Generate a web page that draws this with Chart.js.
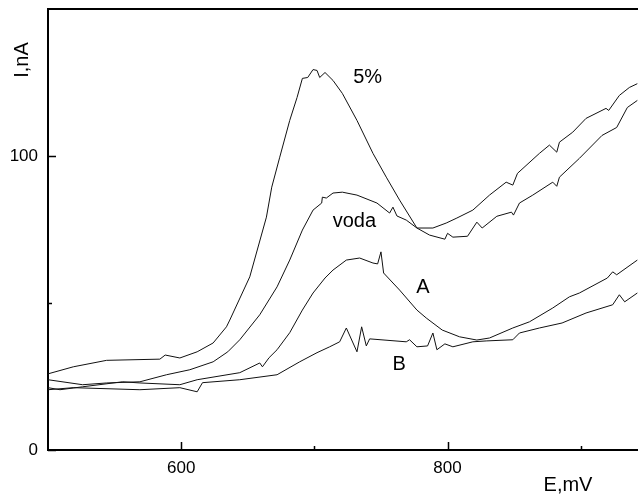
<!DOCTYPE html>
<html>
<head>
<meta charset="utf-8">
<script src="https://cdn.jsdelivr.net/npm/chart.js@4.4.0/dist/chart.umd.min.js"></script>
<style>
  html, body { margin: 0; padding: 0; background: #fff; }
</style>
</head>
<body>
<canvas id="voltChart" width="638" height="494"></canvas>
<script>
// E, mV / I, nA
const fivePctX = [500, 519, 544, 584, 588, 599, 612, 624, 634, 636.5, 651.5, 664, 668, 674, 681.5, 687, 691, 695, 699, 702, 704, 708, 714, 721, 732, 744, 754, 764, 777, 786.5, 798, 800, 804, 815, 822, 826, 837, 848, 849.5, 854, 864, 879, 882, 884, 899, 916, 927, 935, 942.5];
const fivePctY = [25.9, 28.3, 30.5, 30.9, 32.3, 31.3, 33.4, 36.4, 41.9, 44.2, 58.9, 79.2, 89.4, 99.6, 112.1, 119.9, 126.4, 126.7, 129.4, 129.1, 126.7, 128.4, 125.7, 121.3, 112.1, 100.9, 92.8, 85.0, 75.5, 73.1, 71.7, 73.7, 72.4, 72.7, 77.5, 75.5, 79.5, 80.9, 79.9, 84.0, 86.7, 91.1, 89.7, 92.8, 99.2, 107.0, 109.7, 116.5, 118.9];

const vodaX = [500, 526, 544, 569, 589, 606.5, 624, 635, 644, 659, 672, 681.5, 691, 699, 705.5, 706, 709, 714, 721, 732, 747, 756.5, 759, 762, 769, 777, 789, 799, 807, 819, 831.5, 844, 849, 852.5, 869, 876.5, 882, 884, 894, 904, 919, 921, 929, 936.5, 942.5];
const vodaY = [23.9, 22.2, 22.8, 23.2, 25.6, 27.3, 30.0, 33.4, 37.5, 46.0, 55.5, 64.6, 74.8, 81.6, 84.0, 86.0, 85.7, 87.4, 87.7, 86.7, 84.0, 80.6, 82.6, 79.6, 78.2, 75.5, 75.5, 77.2, 78.9, 81.6, 86.7, 91.1, 90.1, 94.1, 100.9, 103.7, 101.3, 104.7, 108.1, 112.8, 116.2, 115.5, 120.6, 123.3, 124.6];

const curveAX = [500, 509, 526, 556, 569, 599, 612, 644, 659, 661, 666, 672, 681.5, 691, 699, 708, 714, 724, 734, 744, 747.5, 750, 752, 764, 777, 784, 796, 809, 822, 831.5, 849, 861.5, 879, 891.5, 899, 920, 924, 927, 942.5];
const curveAY = [21.2, 20.5, 21.5, 23.2, 22.8, 22.2, 23.9, 26.3, 29.6, 28.3, 31.4, 34.1, 39.9, 47.6, 53.4, 58.5, 61.2, 64.6, 65.3, 63.6, 63.3, 67.4, 60.2, 54.4, 47.6, 44.9, 40.8, 38.5, 37.4, 38.1, 41.5, 43.6, 48.3, 52.1, 53.4, 58.5, 60.6, 59.6, 64.6];

const curveBX = [500, 519, 569, 599, 612, 616, 644, 672, 689, 702, 711.5, 719, 724, 732, 735.5, 739, 741.5, 769, 771.5, 777, 785, 789, 792, 798, 804, 819, 829, 849, 854, 869, 886, 904, 924, 929, 933, 942.5];
const curveBY = [20.5, 21.2, 20.5, 21.2, 19.8, 22.9, 23.9, 25.6, 30.0, 33.1, 35.1, 36.8, 41.5, 33.4, 41.9, 35.4, 37.8, 36.8, 37.5, 35.1, 35.4, 39.8, 34.1, 36.1, 35.1, 36.8, 37.1, 37.5, 39.8, 41.5, 43.2, 46.6, 49.4, 52.8, 50.4, 53.4];

const xLabelled = [600, 800];
const xMinor = [700, 900];
const yLabelled = [0, 100];
const yMinor = [50];

// curve names and where they sit (E, I)
const curveNames = ['5%', 'voda', 'A', 'B'];
const nameAtX = [740, 730, 781.6, 763.6];
const nameAtY = [124.7, 75.8, 53.4, 27.3];

const FONT = "'Liberation Sans', Arial, sans-serif";

function toPoints(xs, ys) {
    return xs.map((x, i) => ({ x: x, y: ys[i] }));
}

function curve(label, xs, ys) {
    return {
        label: label,
        data: toPoints(xs, ys),
        borderColor: '#111',
        borderWidth: 1,
        pointRadius: 0,
        tension: 0,
        fill: false
    };
}

// keep the plot box fixed: no extra room for edge labels
function fixBox(s, size) {
    if (s.isHorizontal()) s.height = size; else s.width = size;
    s.paddingTop = 0;
    s.paddingBottom = 0;
    s.paddingLeft = 0;
    s.paddingRight = 0;
}

// inward ticks, top frame, axis titles and curve names
const decorPlugin = {
    id: 'decor',
    afterDraw(chart) {
        const ctx = chart.ctx;
        const xs = chart.scales.x;
        const ys = chart.scales.y;
        const area = chart.chartArea;
        ctx.save();
        ctx.strokeStyle = '#000';
        ctx.lineWidth = 2;
        ctx.beginPath();
        ctx.moveTo(area.left - 1, area.top);
        ctx.lineTo(area.right, area.top);
        ctx.stroke();

        ctx.lineWidth = 1.5;
        ctx.beginPath();
        xLabelled.concat(xMinor).forEach(v => {
            const px = Math.round(xs.getPixelForValue(v)) + 0.5;
            const len = xLabelled.includes(v) ? 8 : 4;
            ctx.moveTo(px, area.bottom);
            ctx.lineTo(px, area.bottom - len);
        });
        yLabelled.concat(yMinor).forEach(v => {
            const py = Math.round(ys.getPixelForValue(v)) + 0.5;
            const len = yLabelled.includes(v) ? 8 : 4;
            ctx.moveTo(area.left, py);
            ctx.lineTo(area.left + len, py);
        });
        ctx.stroke();

        ctx.fillStyle = '#000';
        ctx.font = '20px ' + FONT;
        ctx.textAlign = 'center';
        ctx.textBaseline = 'alphabetic';
        ctx.fillText('E,mV', 568, 491);

        ctx.save();
        ctx.translate(28, 60);
        ctx.rotate(-Math.PI / 2);
        ctx.fillText('I,nA', 0, 0);
        ctx.restore();

        curveNames.forEach((name, i) => {
            ctx.fillText(name, xs.getPixelForValue(nameAtX[i]), ys.getPixelForValue(nameAtY[i]));
        });
        ctx.restore();
    }
};

const ctx = document.getElementById('voltChart').getContext('2d');
const chart = new Chart(ctx, {
    type: 'line',
    data: {
        datasets: [
            curve('5%', fivePctX, fivePctY),
            curve('voda', vodaX, vodaY),
            curve('A', curveAX, curveAY),
            curve('B', curveBX, curveBY)
        ]
    },
    options: {
        responsive: false,
        animation: false,
        parsing: false,
        layout: { padding: { left: 0, top: 9, right: 0, bottom: 0 } },
        plugins: {
            legend: { display: false },
            tooltip: { enabled: false }
        },
        scales: {
            x: {
                type: 'linear',
                min: 500,
                max: 943,
                grid: { display: false, drawTicks: false },
                border: { display: true, color: '#000', width: 2 },
                ticks: {
                    stepSize: 100,
                    autoSkip: false,
                    maxRotation: 0,
                    padding: 8,
                    color: '#000',
                    font: { size: 17, family: FONT },
                    callback: v => xLabelled.includes(v) ? String(v) : ''
                },
                afterFit: s => fixBox(s, 44)
            },
            y: {
                min: 0,
                max: 150,
                grid: { display: false, drawTicks: false },
                border: { display: true, color: '#000', width: 2 },
                ticks: {
                    stepSize: 50,
                    autoSkip: false,
                    padding: 10,
                    color: '#000',
                    font: { size: 17, family: FONT },
                    callback: v => yLabelled.includes(v) ? String(v) : ''
                },
                afterFit: s => fixBox(s, 48)
            }
        }
    },
    plugins: [decorPlugin]
});
</script>
</body>
</html>
